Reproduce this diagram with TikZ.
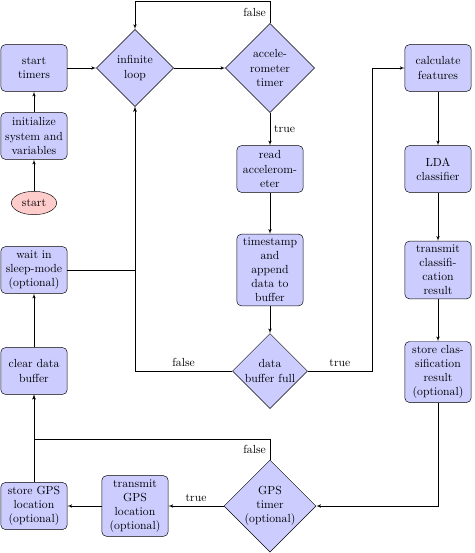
\documentclass[tikz,border=0pt]{standalone}
\usepackage{tikz}
\usetikzlibrary{arrows,shapes.geometric}

\tikzset{
    decision/.style={diamond, draw, fill=blue!20, text width=4.5em, text badly centered, inner sep=0pt},
    block/.style={rectangle, draw, fill=blue!20, text width=5em, text centered, rounded corners, minimum height=4em},
    cloud/.style={draw, ellipse, fill=red!20, minimum height=2em},
    line/.style={draw, -latex'}
}

\begin{document}
\begin{tikzpicture}
            \useasboundingbox (0.00, 0.00) rectangle (14.22,-16.59);
            % first column
            \node[cloud]    (start)  at ( 1.02, -6.09) {start};
            \node[block]    (init)   at ( 1.02, -4.08) {initialize system and variables};
            \node[block]    (timers) at ( 1.02, -2.04) {start timers};
            \node[block]    (wait)   at ( 1.02, -8.10) {wait in sleep-mode (optional)};
            \node[block]    (clear)  at ( 1.02,-11.13) {clear data buffer};
            \node[block]    (sgps)   at ( 1.02,-15.18) {store GPS location (optional)};
            % second column
            \node[decision] (loop)   at ( 4.05, -2.04) {infinite loop};
            \node[block]    (tgps)   at ( 4.05,-15.18) {transmit GPS location (optional)};
            % third column
            \node[decision] (acc)    at ( 8.10, -2.04) {accele-\\rometer\\timer};
            \node[block]    (read)   at ( 8.10, -5.07) {read accelerometer};
            \node[block]    (stamp)  at ( 8.10, -8.10) {timestamp and append data to buffer};
            \node[decision] (full)   at ( 8.10,-11.13) {data buffer full};
            \node[decision] (gps)    at ( 8.10,-15.18) {GPS timer (optional)};
            % fourth column
            \node[block]    (calc)   at (13.14, -2.04) {calculate features};
            \node[block]    (lda)    at (13.14, -5.07) {LDA classifier};
            \node[block]    (tcls)   at (13.14, -8.10) {transmit classification result};
            \node[block]    (scls)   at (13.14,-11.16) {store classification result (optional)};
            % turning points
            \coordinate (topturn)  at ( 8.10, -0.03);
            \coordinate (truejog)  at (11.16, -2.04);
            \coordinate (gpsturn)  at ( 8.10,-13.17);
            % edges
            \path[line] (start)  -- (init);
            \path[line] (init)   -- (timers);
            \path[line] (timers) -- (loop);
            \path[line] (loop)   -- (acc);
            \path[line] (acc)    -- node[right] {true} (read);
            \path[line] (acc.north) -- node[left] {false} (topturn) -| (loop.north);
            \path[line] (read)   -- (stamp);
            \path[line] (stamp)  -- (full);
            \path[line] (full.west) -| node[pos=0.25, above] {false} (loop.south);
            \path[line] (wait.east) -| (loop.south);
            \path[line] (full.east) -| node[pos=0.25, above] {true} (truejog) -- (calc.west);
            \path[line] (calc)   -- (lda);
            \path[line] (lda)    -- (tcls);
            \path[line] (tcls)   -- (scls);
            \path[line] (scls.south) |- (gps.east);
            \path[line] (gps.west) -- node[above] {true} (tgps.east);
            \path[line] (tgps)   -- (sgps);
            \path[line] (gps.north) -- node[left] {false} (gpsturn) -| (clear.south);
            \path[line] (sgps)   -- (clear);
            \path[line] (clear)  -- (wait);
        \end{tikzpicture}
\end{document}
